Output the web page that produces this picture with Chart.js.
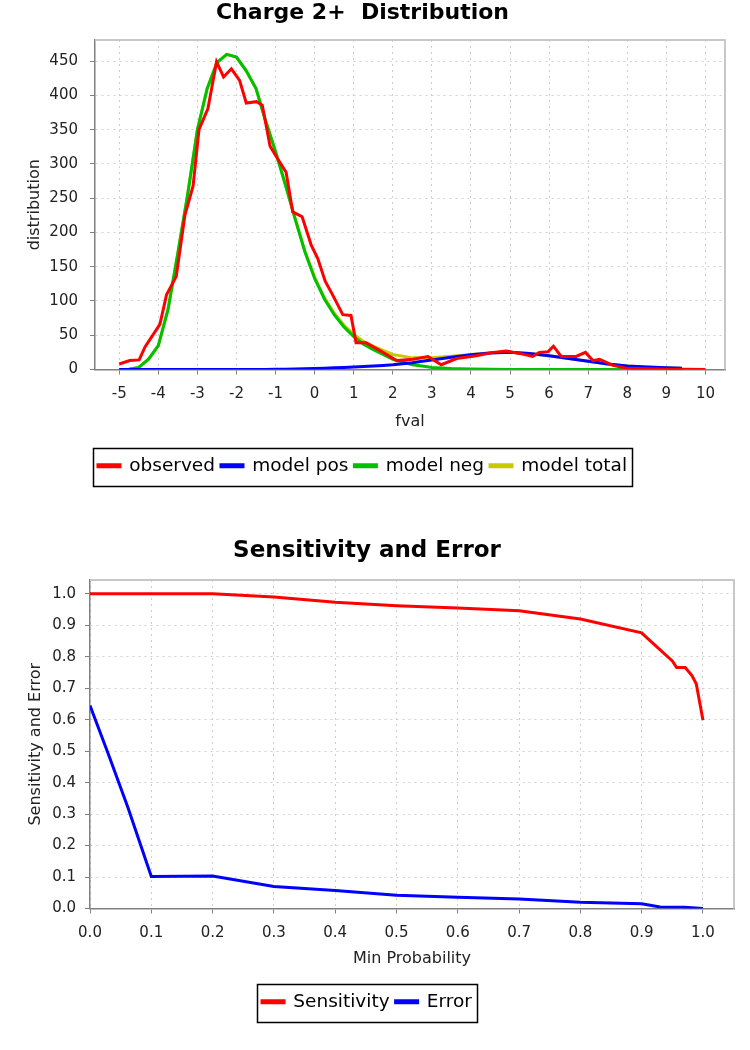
<!DOCTYPE html>
<html>
<head>
<meta charset="utf-8">
<title>Charge 2+ Distribution</title>
<script src="https://cdn.jsdelivr.net/npm/chart.js@4.4.0/dist/chart.umd.min.js"></script>
<style>
  body { margin: 0; background: #fff; width: 750px; height: 1050px; position: relative; overflow: hidden; }
  canvas { position: absolute; left: 0; }
  #distChart { top: 0; }
  #sensChart { top: 515px; }
</style>
</head>
<body>
<canvas id="distChart" width="750" height="495"></canvas>
<canvas id="sensChart" width="750" height="535"></canvas>
<script>
// Tick labels
var distXTicks = [-5, -4, -3, -2, -1, 0, 1, 2, 3, 4, 5, 6, 7, 8, 9, 10];
var distYTicks = [0, 50, 100, 150, 200, 250, 300, 350, 400, 450];
var sensXTicks = [0, 0.1, 0.2, 0.3, 0.4, 0.5, 0.6, 0.7, 0.8, 0.9, 1.0];
var sensYTicks = [0, 0.1, 0.2, 0.3, 0.4, 0.5, 0.6, 0.7, 0.8, 0.9, 1.0];

// Charge 2+ distribution - observed
var observedX = [-5, -4.73, -4.49, -4.34, -3.96, -3.79, -3.54, -3.32, -3.11, -2.96,
  -2.73, -2.51, -2.33, -2.13, -1.92, -1.75, -1.49, -1.34, -1.14, -0.94,
  -0.73, -0.56, -0.32, -0.09, 0.08, 0.27, 0.46, 0.72, 0.93, 1.06,
  1.31, 1.66, 2.1, 2.52, 2.9, 3.24, 3.63, 4.14, 4.57, 4.9,
  5.24, 5.58, 5.75, 5.97, 6.11, 6.31, 6.69, 6.93, 7.12, 7.29,
  7.63, 7.97, 8.48, 9.0, 9.5, 10.0];
var observedY = [8, 13, 14, 33, 66, 109, 136, 225, 268, 350,
  381, 449, 427, 439, 422, 389, 391, 386, 326, 307,
  288, 230, 223, 182, 162, 129, 109, 80, 79, 39,
  39, 28, 13, 15, 19, 7, 16, 20, 25, 27,
  23.5, 19, 25, 26, 34, 19, 19, 25, 13, 15,
  6, 2, 1, 0.5, 0.3, 0];

// model curves share one fval grid
var modelX = [-5, -4.75, -4.5, -4.25, -4, -3.75, -3.5, -3.25, -3, -2.75,
  -2.5, -2.25, -2, -1.75, -1.5, -1.25, -1, -0.75, -0.5, -0.25,
  0, 0.25, 0.5, 0.75, 1, 1.25, 1.5, 1.75, 2, 2.25,
  2.5, 2.75, 3, 3.5, 4, 4.5, 5, 5.5, 6, 6.5,
  7, 7.5, 8, 8.5, 9, 9.4];
var modelPos = [0, 0, 0, 0, 0, 0, 0, 0, 0, 0,
  0, 0, 0, 0, 0, 0, 0.3, 0.5, 0.8, 1.1,
  1.5, 2, 2.5, 3, 3.5, 4.2, 5, 6, 7, 8.5,
  10, 12, 14, 18, 21.5, 24, 25, 23.5, 20, 16,
  12, 8, 5, 3.5, 2.5, 2];
var modelNeg = [0, 0.5, 3, 15, 35, 88, 170, 255, 350, 410,
  448, 460, 456, 436, 410, 362, 318, 270, 220, 172,
  133, 103, 80, 62, 48, 37, 29, 22, 15, 11,
  7, 5, 3, 1.5, 0.7, 0.3, 0, 0, 0, 0,
  0, 0, 0, 0, 0, 0];
var modelTotal = [0, 0.5, 3, 15, 35, 88, 170, 255, 350, 410,
  448, 460, 456, 436, 410, 362, 318, 270, 221, 173,
  134.5, 105, 82.5, 65, 51.5, 41, 34, 28, 22, 19.5,
  17, 17, 17, 19.5, 22, 24.3, 25, 23.5, 20, 16,
  12, 8, 5, 3.5, 2.5, 2];

// Sensitivity and error vs min probability
var sensX = [0, 0.1, 0.2, 0.3, 0.4, 0.5, 0.6, 0.7, 0.8, 0.9, 0.91, 0.95, 0.957, 0.971, 0.982, 0.989, 1.0];
var sensY = [1.0, 1.0, 1.0, 0.99, 0.973, 0.962, 0.955, 0.946, 0.92, 0.876, 0.858, 0.787, 0.766, 0.766, 0.74, 0.714, 0.598];
var errX = [0, 0.03, 0.062, 0.1, 0.2, 0.3, 0.4, 0.5, 0.6, 0.7, 0.8, 0.9, 0.93, 0.97, 1.0];
var errY = [0.645, 0.49, 0.32, 0.102, 0.103, 0.07, 0.057, 0.042, 0.036, 0.03, 0.02, 0.015, 0.005, 0.004, 0.0];

var FONT = "'DejaVu Sans', sans-serif";
Chart.defaults.font.family = FONT;
Chart.defaults.color = '#222';

function pts(xs, ys) {
  return xs.map(function (x, i) { return { x: x, y: ys[i] }; });
}

function line(label, xs, ys, color) {
  return {
    label: label,
    data: pts(xs, ys),
    borderColor: color,
    backgroundColor: color,
    borderWidth: 3,
    pointRadius: 0,
    tension: 0,
    fill: false
  };
}

// light frame on top/right of the plot, like the original
var plotFrame = {
  id: 'plotFrame',
  beforeDatasetsDraw: function (chart) {
    var a = chart.chartArea, ctx = chart.ctx;
    ctx.save();
    ctx.strokeStyle = '#c8c8c8';
    ctx.lineWidth = 2;
    ctx.beginPath();
    ctx.moveTo(a.left, a.top);
    ctx.lineTo(a.right, a.top);
    ctx.lineTo(a.right, a.bottom);
    ctx.stroke();
    ctx.restore();
  }
};

// black box round the legend items
var legendFrame = {
  id: 'legendFrame',
  afterDraw: function (chart) {
    var boxes = chart.legend && chart.legend.legendHitBoxes;
    if (!boxes || !boxes.length) return;
    var l = Math.min.apply(null, boxes.map(function (b) { return b.left; })) - 5;
    var r = Math.max.apply(null, boxes.map(function (b) { return b.left + b.width; })) + 5;
    var t = Math.min.apply(null, boxes.map(function (b) { return b.top; })) - 9;
    var btm = Math.max.apply(null, boxes.map(function (b) { return b.top + b.height; })) + 10;
    var ctx = chart.ctx;
    ctx.save();
    ctx.strokeStyle = '#000';
    ctx.lineWidth = 1.5;
    ctx.strokeRect(Math.round(l) + 0.5, Math.round(t) + 0.5, Math.round(r - l), Math.round(btm - t));
    ctx.restore();
  }
};

function axis(opts) {
  return {
    type: 'linear',
    min: opts.min,
    max: opts.max,
    afterBuildTicks: function (s) { s.ticks = opts.ticks.map(function (v) { return { value: v }; }); },
    afterFit: function (s) { if (opts.width) s.width = opts.width; if (opts.height) s.height = opts.height; },
    title: { display: true, text: opts.title, color: '#222', font: { size: 16 }, padding: opts.titlePad },
    grid: { color: '#d0d0d0', tickColor: '#808080', tickLength: 5, drawTicks: true },
    border: { display: true, color: '#808080', width: 1.5, dash: [2, 4] },
    ticks: {
      font: { size: 15 }, color: '#222', padding: opts.tickPad, maxRotation: 0, autoSkip: false,
      callback: opts.fmt || function (v) { return v; }
    }
  };
}

function legendOpts() {
  return {
    display: true,
    position: 'bottom',
    labels: { boxWidth: 22, boxHeight: 2, padding: 6, color: '#000', font: { size: 18.5 } }
  };
}

new Chart(document.getElementById('distChart'), {
  type: 'line',
  data: {
    datasets: [
      line('observed', observedX, observedY, '#ff0000'),
      line('model pos', modelX, modelPos, '#0000ff'),
      line('model neg', modelX, modelNeg, '#00c000'),
      line('model total', modelX, modelTotal, '#c8c800')
    ]
  },
  options: {
    responsive: false,
    animation: false,
    layout: { padding: { left: 0, right: 25, top: 0, bottom: 10 } },
    scales: {
      x: axis({ min: -5.62, max: 10.5, ticks: distXTicks, title: 'fval', height: 81, tickPad: 11,
        titlePad: { top: 2, bottom: 19 } }),
      y: axis({ min: 0, max: 481, ticks: distYTicks, title: 'distribution', width: 95, tickPad: 12,
        titlePad: { top: 25, bottom: 0 } })
    },
    plugins: {
      title: {
        display: true, text: 'Charge 2+  Distribution', color: '#000',
        font: { size: 22, weight: 'bold' }, padding: { top: 0, bottom: 13.6 }
      },
      legend: legendOpts(),
      tooltip: { enabled: false }
    }
  },
  plugins: [plotFrame, legendFrame]
});

new Chart(document.getElementById('sensChart'), {
  type: 'line',
  data: {
    datasets: [
      line('Sensitivity', sensX, sensY, '#ff0000'),
      line('Error', errX, errY, '#0000ff')
    ]
  },
  options: {
    responsive: false,
    animation: false,
    layout: { padding: { left: 0, right: 16, top: 0, bottom: 29 } },
    scales: {
      x: axis({ min: 0, max: 1.0506, ticks: sensXTicks, title: 'Min Probability', height: 78, tickPad: 11,
        titlePad: { top: 2, bottom: 18 }, fmt: function (v) { return v.toFixed(1); } }),
      y: axis({ min: 0, max: 1.044, ticks: sensYTicks, title: 'Sensitivity and Error', width: 90, tickPad: 9,
        titlePad: { top: 26, bottom: 0 }, fmt: function (v) { return v.toFixed(1); } })
    },
    plugins: {
      title: {
        display: true, text: 'Sensitivity and Error', color: '#000',
        font: { size: 23, weight: 'bold' }, padding: { top: 22, bottom: 15.4 }
      },
      legend: legendOpts(),
      tooltip: { enabled: false }
    }
  },
  plugins: [plotFrame, legendFrame]
});
</script>
</body>
</html>
